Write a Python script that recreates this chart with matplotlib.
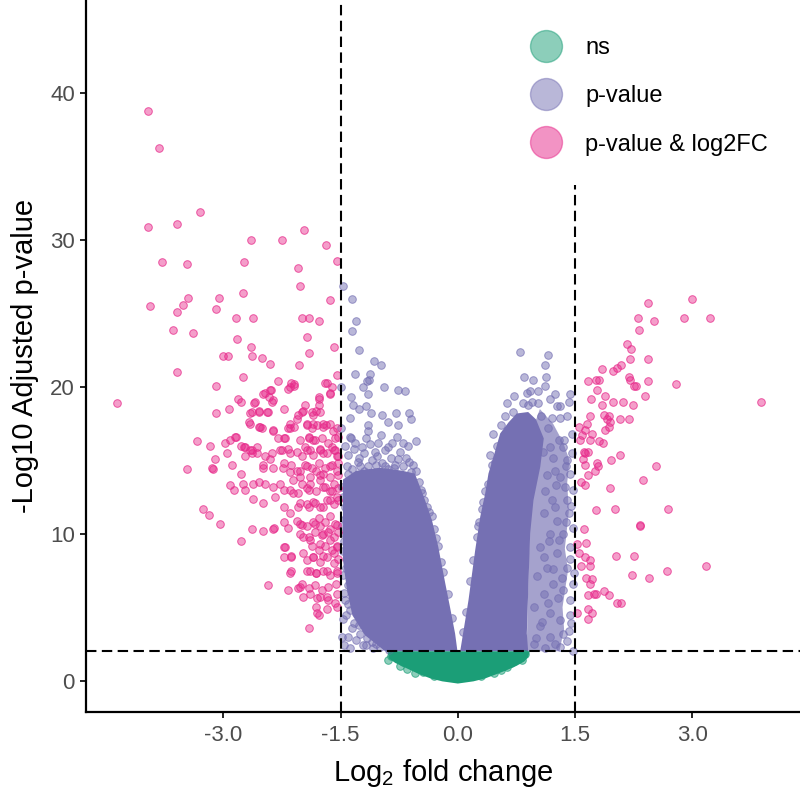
import matplotlib
matplotlib.use("Agg")
import matplotlib.pyplot as plt
from matplotlib.lines import Line2D

plt.rcParams['font.family'] = ['Liberation Sans', 'DejaVu Sans']
plt.rcParams['mathtext.default'] = 'regular'

# colours (Dark2)
col_ns = '#1B9E77'
col_p = '#7570B3'
col_fc = '#E7298A'

# ---- data ----
# p-value & log2FC (pink)
pink_x = [
    -3.97, -3.83, -3.30, -3.96, -3.59, -2.65, -2.25, -1.97, -1.69, -1.55, -3.79, -3.47, -2.74, -2.05,
    -2.02, -1.64, -3.94, -3.46, -3.52, -3.60, -3.06, -3.10, -2.75, -2.84, -2.62, -2.00, -1.90, -1.78,
    -3.65, -3.39, -2.83, -2.65, -1.93, -1.58,
    -3.01, -2.94, -2.63, -2.51, -2.40, -1.91, -2.03, -3.59, -2.75, -3.09, -2.30, -2.15, -2.10, -1.70,
    -1.55, -1.64, -4.36, -2.82, -2.77, -2.61, -2.50, -2.40, -2.38, -3.10, -2.93, -2.66, -2.55, -2.43,
    -2.22, -2.04, -1.98, -1.87, -1.76, -1.78, -1.78, -1.72, -1.60, -2.67, -2.53, -2.51, -2.37, -2.23,
    -2.15, -1.93, -1.85, -1.69, -1.53, -3.34, -3.17, -2.98, -2.92, -2.84, -2.96, -3.11, -3.15, -3.13,
    -3.47, -2.89, -2.77, -2.72, -2.66, -2.63, -2.57, -2.47, -2.40, -2.25, -2.15, -2.02, -1.91, -1.85,
    -1.96, -1.89, -1.76, -1.72, -1.61, -1.57, -1.55, -1.53, -2.49, -2.36, -2.24, -2.13, -2.02, -1.93,
    -1.81, -1.72, -1.64, -2.77, -2.75, -2.92, -2.87, -2.72, -2.62, -2.55, -2.47, -2.62, -2.50, -2.36,
    -2.28, -2.23, -2.34, -2.22, -2.11, -2.11, -2.00, -1.91, -1.89, -1.76, -1.72, -1.64, -1.59, -2.04,
    -1.93, -1.83, -1.72, -1.64, -1.55, -3.26, -3.19, -3.04, -2.77, -2.63, -2.49, -2.36, -2.23, -2.15,
    -2.23, -2.02, -1.93, -1.85, -1.76, -1.72, -1.64, -1.55, -2.06, -1.98, -1.89, -1.76, -1.64, -1.55,
    -2.13, -1.98, -1.85, -1.72, -1.59, -2.15, -1.93, -1.81, -1.68, -1.55, -2.43, -2.17, -2.02, -1.98,
    -1.89, -1.76, -1.66, -1.55, -1.81, -1.68, -1.55, -1.78, -1.90,
    -2.00, -1.83, -1.78, -1.70, -1.64, -1.57, -2.02, -1.91, -1.83, -1.74, -1.66, -1.59, -1.53, -1.87,
    -1.78, -1.70, -1.61, -1.55, -1.93, -1.85, -1.76, -1.68, -1.59, -1.53, -1.89, -1.81, -1.72, -1.64,
    -1.55, -2.00, -1.91, -1.83, -1.74, -1.66, -1.56, -1.80, -1.68, -1.57, -1.80,
    -2.02, -1.91, -1.85, -1.76, -1.68, -1.59, -1.53, -2.15, -2.04, -1.93, -1.81, -1.70, -1.61, -1.54,
    -2.17, -2.21, -2.13, -2.04, -2.35, -2.23, -2.13,
    -1.78, -1.81, -1.85, -1.68, -1.64, -1.61, -2.00, -2.06, -1.96, -2.10, -2.17, -2.15, -1.93, -1.87,
    -1.80, -1.72, -1.64, -1.55, -1.91, -1.83, -1.74, -1.66, -1.57, -1.93, -1.85, -1.76, -1.68, -1.59,
    -1.53, -2.06, -2.00, -1.96, -1.87, -1.78, -1.70, -1.61, -1.55, -2.06, -2.02, -1.89, -1.76, -1.64,
    -1.53, -2.13, -2.10, -2.17, -2.39, -2.47, -2.42, -2.36, -2.60, -2.64, -2.54, -2.44, -2.66, -2.55,
    -2.36, -2.21, -2.30, -2.85, -2.74, -2.64, -2.72, -2.57, -2.38, -2.28, -2.17, -2.49, -2.23, -2.15,
    2.44, 3.00, 2.30, 2.51, 2.89, 3.23, 2.32, 2.17, 2.22, 2.20, 2.43, 1.84, 1.98, 2.04, 2.09, 1.67,
    1.77, 1.81, 2.19, 2.21, 2.26, 2.28, 2.44, 2.79, 1.78, 1.88, 2.40, 1.71, 1.84, 1.98, 2.11, 2.24,
    3.88, 1.69, 1.87, 1.93, 2.08, 2.19, 1.91, 1.95, 1.88, 1.93, 1.55, 1.65, 1.63, 1.72, 1.69, 1.81,
    1.86, 1.59, 1.57, 1.62, 1.67, 1.60, 1.63, 1.96, 2.07, 1.63, 1.78, 1.80, 1.76, 1.67, 1.58, 1.63,
    2.54, 2.37, 1.95, 1.77, 2.01, 2.69, 2.33, 2.33, 1.62, 1.64, 1.53, 1.55, 1.63, 1.69, 1.69, 1.58,
    2.02, 2.25, 2.23, 2.45, 2.68, 3.18, 1.64, 1.72, 1.69, 1.74, 1.77, 1.87, 1.94, 1.67, 2.04, 2.09,
    1.66, 1.72, 1.52, 1.67,
]
pink_y = [
    38.8, 36.3, 31.9, 30.9, 31.1, 30.0, 30.0, 30.7, 29.7, 28.6, 28.5, 28.4, 28.5, 28.1,
    26.9, 25.9, 25.5, 26.1, 25.6, 25.1, 26.1, 25.3, 26.4, 24.7, 24.7, 24.7, 24.7, 24.5,
    23.9, 23.7, 23.3, 22.7, 23.4, 22.7,
    22.1, 22.1, 22.1, 22.0, 21.6, 22.3, 21.5, 21.0, 20.7, 20.1, 20.4, 20.0, 20.2, 20.3,
    20.8, 19.5, 18.9, 19.2, 19.0, 18.9, 19.5, 19.8, 19.0, 18.2, 18.5, 18.2, 18.4, 18.3,
    18.5, 18.1, 18.4, 18.3, 18.3, 18.8, 19.2, 17.5, 17.0, 17.6, 17.3, 17.2, 17.0, 16.5,
    17.2, 17.4, 17.5, 17.4, 16.6, 16.3, 16.0, 16.2, 16.4, 16.6, 15.5, 15.1, 14.5, 14.4,
    14.4, 14.7, 16.0, 15.9, 15.7, 15.5, 15.9, 15.3, 15.1, 15.7, 15.5, 16.4, 16.5, 16.4,
    15.9, 15.7, 15.7, 15.5, 15.9, 15.7, 15.3, 14.8, 14.5, 14.5, 14.5, 14.7, 14.3, 14.6,
    14.3, 14.1, 14.6, 14.1, 13.4, 13.3, 13.0, 13.0, 13.4, 13.5, 13.4, 12.4, 12.1, 13.2,
    13.4, 13.0, 12.5, 11.8, 13.7, 12.8, 13.4, 13.0, 13.4, 13.7, 13.2, 12.9, 13.4, 11.8,
    12.0, 12.1, 11.8, 12.3, 12.5, 11.7, 11.3, 10.7, 9.5, 10.3, 10.2, 10.3, 10.8, 11.4,
    9.1, 10.7, 10.5, 10.8, 10.5, 10.0, 10.3, 10.6, 10.9, 9.8, 9.6, 9.3, 9.6, 9.1,
    8.4, 8.7, 8.4, 8.5, 8.7, 7.3, 7.5, 7.3, 7.5, 7.3, 6.5, 6.2, 6.4, 5.7,
    5.9, 5.7, 5.5, 5.9, 5.0, 4.9, 5.0, 4.5, 3.6,
    10.6, 10.7, 11.1, 10.8, 11.2, 10.7, 10.0, 9.8, 10.1, 9.9, 10.1, 9.8, 10.1, 9.2,
    8.9, 9.2, 8.9, 9.2, 8.2, 8.4, 8.1, 8.4, 8.0, 8.3, 7.5, 7.3, 7.5, 7.2,
    7.5, 6.6, 6.3, 6.5, 6.2, 6.4, 6.6, 5.6, 5.7, 5.3, 4.6,
    12.1, 11.8, 12.2, 11.8, 12.3, 12.0, 12.3, 13.0, 12.8, 13.1, 12.9, 13.2, 12.9, 13.1,
    10.4, 9.1, 7.5, 6.3, 10.4, 8.4, 8.5,
    19.3, 18.4, 18.1, 20.3, 19.6, 20.0, 18.3, 17.8, 18.8, 17.3, 17.2, 17.5, 17.5, 17.2,
    17.4, 17.3, 17.5, 17.2, 16.6, 16.4, 16.5, 16.2, 16.5, 15.7, 15.4, 15.8, 15.5, 15.7,
    15.3, 15.6, 15.3, 14.7, 14.5, 14.8, 14.5, 14.7, 14.3, 14.3, 13.9, 13.9, 14.0, 13.9,
    14.0, 20.3, 20.1, 19.9, 19.8, 19.6, 19.3, 19.1, 19.0, 18.3, 18.3, 18.3, 17.5, 17.3,
    17.1, 16.5, 16.5, 16.6, 15.9, 15.7, 15.3, 15.5, 15.5, 15.7, 15.8, 14.7, 14.8, 14.2,
    25.7, 26.0, 24.7, 24.5, 24.7, 24.7, 23.9, 22.9, 22.6, 21.9, 21.9, 21.2, 21.1, 21.3, 21.5, 20.4,
    20.5, 20.5, 20.7, 20.5, 20.1, 20.1, 20.4, 20.2, 19.8, 19.4, 19.4, 19.2, 18.8, 19.0, 19.0, 18.8,
    19.0, 18.0, 18.1, 18.0, 17.8, 17.8, 17.8, 17.6, 17.1, 17.3, 17.3, 17.5, 17.1, 16.8, 16.4, 16.3,
    16.2, 16.7, 16.4, 15.6, 15.6, 15.1, 15.5, 15.0, 15.4, 14.7, 14.8, 14.6, 14.3, 14.0, 13.5, 13.3,
    14.6, 13.7, 13.1, 11.6, 11.7, 11.7, 10.6, 10.5, 10.3, 9.4, 9.3, 8.7, 8.4, 8.2, 7.8, 7.8,
    8.5, 8.5, 7.2, 7.0, 7.5, 7.8, 7.0, 6.9, 6.6, 5.9, 5.9, 6.1, 5.8, 5.8, 5.3, 5.3,
    4.9, 4.6, 4.6, 4.2,
]

# p-value only (purple), points outside the solid cores
purple_x = [
    -1.47, -1.35, -1.31, -1.35, -1.26, -1.07, -0.99, -1.32, -1.12, -1.14, -1.16, -0.94, -0.76, -0.68,
    -1.22, -1.15, -1.37, -1.34, -1.26, -1.17, -1.11, -0.97, -0.79, -0.62, -1.38, -0.89, -0.77, -0.60,
    -1.15, -1.15, -1.49, -1.37, -1.32, -1.23, -1.02, -0.84, -0.70, -0.53, -1.06, -0.93, -0.76, -0.67,
    -1.27, -0.57, -0.53, -0.46, -0.43, -0.33, -0.25, -1.49, -1.27, -1.18, -1.48, -1.21, -1.08, -1.47,
    -1.44, -1.46, -1.42, -1.47, -1.40, -1.45, -1.38, -1.47, -1.33, -1.25, -1.10, -1.00, -1.41,
    -1.45, -1.40, -1.33, -1.28, -1.20, -1.13, -1.10, -1.03, -0.97, -0.90, -0.86, -0.80, -0.74, -0.70,
    -0.63, -0.60, -1.42, -1.35, -1.25, -1.15, -1.05, -0.93, -0.82, -1.38, -1.18, -0.98, -0.78, -0.64,
    -0.50, -0.47, -0.40, -0.37, -0.30, -0.28, -0.21, -0.19, -0.13, -0.08,
    -1.48, -1.45, -1.48, -1.44, -1.47, -1.43, -1.46, -1.41, -1.43, -1.36, -1.30, -1.16, -1.05, -1.46,
    -1.38, -0.88, -1.40, -1.20, -0.90,
    0.79, 1.15, 1.12, 0.85, 0.96, 1.13, 0.93, 1.02, 1.11, 1.24, 1.43, 0.63, 0.90, 1.02, 1.18, 1.27,
    1.31, 1.42, 0.60, 0.45, 1.20, 1.31, 1.40, 1.46, 0.41, 0.48, 1.18, 1.35, 1.22, 1.40, 1.44, 1.31,
    1.37, 1.40, 1.20, 1.10, 1.27, 1.42, 1.18, 1.35, 1.44, 1.05, 1.27, 1.14, 1.40, 1.01, 1.22, 1.35,
    1.10, 1.44, 0.97, 1.18, 1.31, 1.05, 1.42, 1.18, 0.97, 1.31, 1.48, 0.35, 0.26, 0.24, 0.31, 1.44,
    1.49,
    1.46, 1.47, 1.45, 1.48, 1.44, 1.47, 1.45, 1.40, 1.35, 1.25, 1.12, 1.00, 1.08, 1.15, 1.28, 1.33,
    1.22, 1.10, 1.17, 1.30, 1.38, 1.24, 1.12, 1.26, 1.38, 1.25, 1.14, 1.09, 1.29, 1.15, 1.36, 0.98,
    1.06, 0.83, 0.70, 0.55, 0.50, 0.44, 0.38, 0.32, 0.27, 0.20, 0.16, 0.10, 0.06, 0.72, 0.88, 0.95,
]
purple_y = [
    26.9, 26.0, 24.5, 23.8, 22.5, 21.8, 21.5, 20.9, 20.9, 20.5, 20.4, 20.0, 19.8, 19.7,
    20.0, 19.5, 19.3, 18.8, 18.5, 18.7, 18.2, 18.1, 18.2, 18.2, 17.9, 17.6, 17.4, 17.8,
    17.4, 17.0, 17.2, 16.5, 16.2, 15.9, 16.2, 16.2, 16.2, 16.3, 15.6, 15.7, 15.1, 15.2,
    15.2, 14.7, 14.3, 12.8, 12.3, 11.2, 9.2, 20.0, 3.8, 2.4, 3.0, 2.4, 2.25, 12.5,
    11.0, 9.5, 8.3, 7.2, 6.5, 5.5, 4.8, 4.2, 3.9, 3.2, 2.6, 2.3, 3.0,
    16.0, 15.4, 15.8, 14.9, 15.5, 16.1, 15.0, 15.3, 14.8, 15.9, 15.2, 14.7, 15.6, 14.6,
    14.9, 14.2, 14.6, 14.4, 14.6, 14.6, 14.7, 14.6, 14.5, 16.6, 16.5, 16.7, 16.6, 16.0,
    13.5, 13.0, 11.8, 11.5, 10.3, 9.7, 8.1, 7.4, 5.9, 4.3,
    13.2, 11.8, 10.5, 10.0, 8.8, 7.7, 6.0, 5.2, 4.5, 3.6, 2.8, 2.9, 2.5, 2.4,
    2.2, 2.1, 14.1, 14.3, 14.4,
    22.4, 22.2, 21.5, 20.7, 20.5, 20.7, 19.7, 19.7, 20.1, 19.5, 19.5, 18.9, 18.8, 18.9, 19.2, 18.7,
    18.7, 19.0, 18.0, 16.8, 17.9, 17.9, 18.0, 16.8, 15.4, 14.9, 15.9, 15.9, 15.2, 15.0, 14.1, 13.9,
    13.2, 12.3, 12.3, 11.4, 10.9, 11.4, 10.0, 10.0, 9.1, 9.1, 8.7, 7.7, 7.7, 7.1, 6.6, 6.2,
    5.9, 5.5, 5.0, 4.6, 4.1, 3.7, 3.4, 3.0, 2.5, 2.3, 2.05, 12.9, 10.5, 9.8, 11.7, 4.5,
    7.3,
    15.5, 13.0, 11.9, 10.4, 8.3, 6.6, 3.9, 2.7, 3.2, 2.5, 2.2, 2.9, 4.0, 5.3, 5.6, 7.0,
    7.6, 8.4, 9.5, 9.6, 10.8, 11.8, 12.9, 13.3, 14.6, 14.3, 14.0, 15.6, 16.4, 17.2, 16.4, 16.8,
    18.0, 18.9, 18.3, 17.4, 16.0, 14.7, 13.4, 12.2, 10.8, 8.2, 6.8, 4.7, 3.3, 19.4, 19.6, 19.0,
]

# ns (green), points on the rim of the ns core
green_x = [-0.89, -0.74, -0.55, -0.85, -0.65, 0.46, 0.63, 0.82, 0.73,
           -0.78, -0.70, -0.45, -0.30, 0.30, 0.55, 0.68, 0.86]
green_y = [1.4, 1.0, 0.5, 1.7, 0.8, 0.5, 0.9, 1.4, 1.5,
           1.6, 1.3, 0.6, 0.3, 0.3, 0.75, 1.2, 1.8]

# outlines of the areas where points overlap into solid colour
left_core_x = [-0.93, -1.19, -1.35, -1.42, -1.47, -1.47, -1.30, -1.00, -0.71, -0.55, -0.42, -0.33,
               -0.25, -0.16, -0.10, -0.035, -0.005]
left_core_y = [2.0, 3.1, 4.45, 6.2, 8.2, 13.7, 14.3, 14.5, 14.3, 14.1, 12.3, 10.9, 9.1, 6.6, 5.0, 3.2, 2.0]

right_core_x = [0.03, 0.136, 0.222, 0.286, 0.35, 0.392, 0.456, 0.542, 0.65, 0.755, 0.90, 1.00, 1.10,
                1.055, 0.968, 0.926, 0.904, 0.883, 0.90]
right_core_y = [2.0, 5.47, 8.88, 11.15, 12.75, 14.11, 15.24, 16.84, 17.6, 18.2, 18.3, 17.8, 16.5,
                14.56, 12.29, 10.04, 6.63, 3.22, 2.0]

right_halo_x = [0.88, 1.30, 1.36, 1.34, 1.41, 1.37, 1.42, 1.40, 1.43, 1.35, 1.22, 1.05, 0.95]
right_halo_y = [2.0, 2.0, 3.5, 5.0, 7.5, 9.0, 11.5, 13.5, 15.0, 16.2, 17.5, 18.5, 17.0]

ns_core_x = [-0.90, -0.88, -0.80, -0.72, -0.60, -0.50, -0.35, -0.20, 0.0, 0.20, 0.35, 0.50, 0.62,
             0.75, 0.85, 0.90, 0.92]
ns_core_y = [2.0, 1.5, 1.2, 1.0, 0.7, 0.45, 0.15, -0.05, -0.2, -0.05, 0.15, 0.45, 0.7, 1.0, 1.3, 1.6, 2.0]

fc_cut = 1.5
p_cut = 2.0

legend_labels = ['ns', 'p-value', 'p-value & log2FC']

# ---- plot ----
fig = plt.figure(figsize=(8, 7.95), dpi=100)
ax = fig.add_axes([0.1075, 0.104, 0.8925, 0.896])

ax.fill(right_halo_x, right_halo_y, color=col_p, alpha=0.65, lw=0, zorder=1)
ax.fill(left_core_x, left_core_y, color=col_p, lw=0, zorder=2)
ax.fill(right_core_x, right_core_y, color=col_p, lw=0, zorder=2)
ax.fill(ns_core_x, ns_core_y, color=col_ns, lw=0, zorder=2)

pt = dict(s=30, linewidths=0.7, zorder=3)
ax.scatter(purple_x, purple_y, facecolors=(0.459, 0.439, 0.702, 0.5),
           edgecolors=(0.459, 0.439, 0.702, 0.7), **pt)
ax.scatter(green_x, green_y, facecolors=(0.106, 0.62, 0.467, 0.5),
           edgecolors=(0.106, 0.62, 0.467, 0.7), **pt)
ax.scatter(pink_x, pink_y, facecolors=(0.906, 0.161, 0.541, 0.45),
           edgecolors=(0.906, 0.161, 0.541, 0.75), **pt)

dash = dict(color='black', lw=1.5, dashes=(5, 2.6), zorder=4)
ax.axvline(-fc_cut, **dash)
ax.axvline(fc_cut, **dash)
ax.axhline(p_cut, **dash)

ax.set_xlim(-4.76, 4.38)
ax.set_ylim(-2.16, 46.37)
ax.set_xticks([-3, -1.5, 0, 1.5, 3])
ax.set_xticklabels(['-3.0', '-1.5', '0.0', '1.5', '3.0'])
ax.set_yticks([0, 10, 20, 30, 40])

for s in ['top', 'right']:
    ax.spines[s].set_visible(False)
for s in ['left', 'bottom']:
    ax.spines[s].set_linewidth(1.6)
ax.tick_params(length=4, width=1.2, labelsize=16, labelcolor='#4D4D4D', pad=4)
ax.tick_params(axis='x', pad=5)

ax.set_xlabel('Log$_2$ fold change', fontsize=21, labelpad=8)
ax.set_ylabel('-Log10 Adjusted p-value', fontsize=21, labelpad=8)

# legend with a blank title so its white box reaches the top edge
handles = [Line2D([], [], marker='o', linestyle='none', markersize=23, color=c, alpha=0.5)
           for c in [col_ns, col_p, col_fc]]
leg = ax.legend(handles, legend_labels, loc='upper left', bbox_to_anchor=(0.57, 1.040),
                borderaxespad=0, fontsize=17, frameon=True, facecolor='white', edgecolor='none',
                framealpha=1, borderpad=1.25, labelspacing=1.11, handlelength=2.0,
                handletextpad=0.65, title=' ', title_fontsize=8)
leg.set_zorder(5)

fig.savefig('out.png', dpi=100)
